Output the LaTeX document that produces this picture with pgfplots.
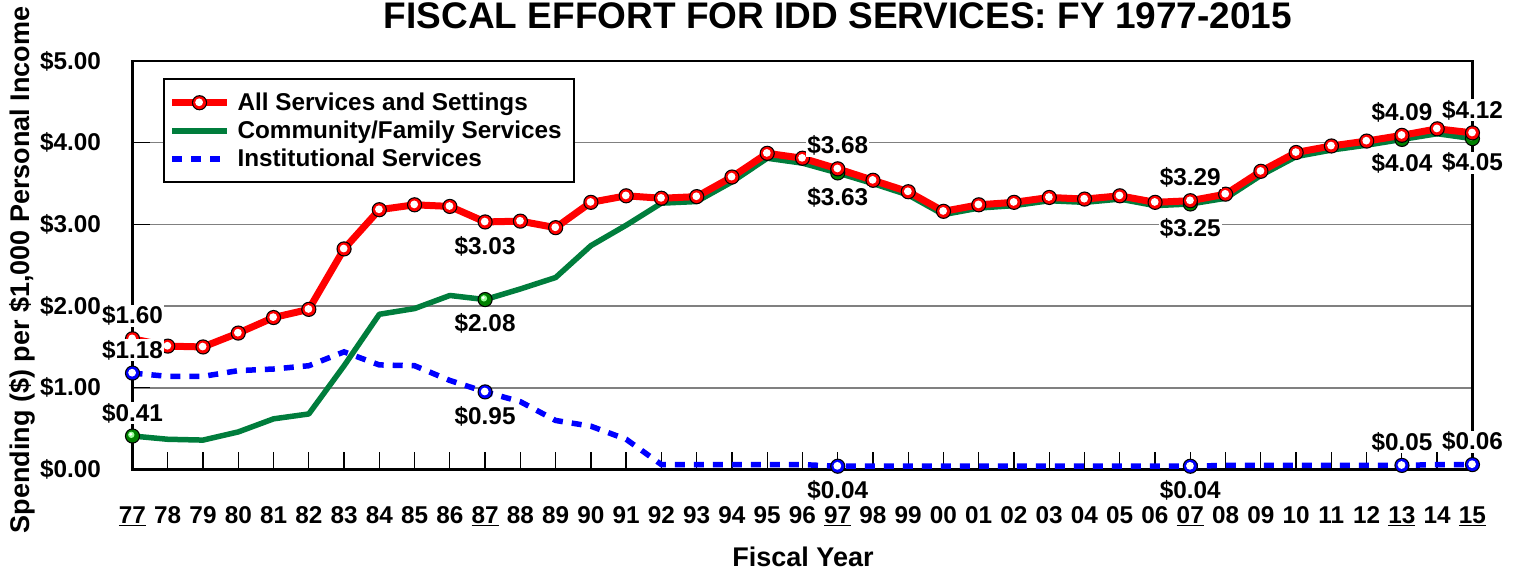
\documentclass[border=0pt]{standalone}
\usepackage{fontspec}
\setmainfont{Liberation Sans}
\usepackage{pgfplots}
\usepackage{pgfplotstable}
\pgfplotsset{compat=1.18}
\definecolor{cgreen}{RGB}{0,125,60}
\definecolor{cblue}{RGB}{0,0,255}
\definecolor{cred}{RGB}{255,0,0}
\newcommand{\tickfont}{\fontsize{24.3bp}{29bp}\selectfont\bfseries}
\newcommand{\labfont}{\fontsize{27bp}{31bp}\selectfont\bfseries}
\newcommand{\titfont}{\fontsize{37bp}{41bp}\selectfont\bfseries}

\pgfdeclareplotmark{redball}{%
  \pgfpathcircle{\pgfpointorigin}{7.6bp}\pgfsetfillcolor{black}\pgfusepath{fill}%
  \pgfpathcircle{\pgfpointorigin}{6.4bp}\pgfsetfillcolor{cred}\pgfusepath{fill}%
  \pgfpathcircle{\pgfpoint{-0.4bp}{0.4bp}}{3.9bp}\pgfsetfillcolor{white}\pgfusepath{fill}}
\pgfdeclareplotmark{blueball}{%
  \pgfpathcircle{\pgfpointorigin}{7.6bp}\pgfsetfillcolor{black}\pgfusepath{fill}%
  \pgfpathcircle{\pgfpointorigin}{6.4bp}\pgfsetfillcolor{cblue}\pgfusepath{fill}%
  \pgfpathcircle{\pgfpoint{-0.4bp}{0.4bp}}{3.9bp}\pgfsetfillcolor{white}\pgfusepath{fill}}
\pgfdeclareplotmark{greenball}{%
  \pgfpathcircle{\pgfpointorigin}{7.6bp}\pgfsetfillcolor{black}\pgfusepath{fill}%
  \pgfpathcircle{\pgfpointorigin}{6.4bp}\pgfsetfillcolor{green!50!black}\pgfusepath{fill}%
  \pgfpathcircle{\pgfpoint{-1.2bp}{1.2bp}}{3.2bp}\pgfsetfillcolor{green!40!white}\pgfusepath{fill}%
  \pgfpathcircle{\pgfpoint{-1.8bp}{1.8bp}}{1.6bp}\pgfsetfillcolor{white}\pgfusepath{fill}}

\pgfplotstableread{
year all comm inst
1977 1.60 0.41 1.18
1978 1.51 0.37 1.14
1979 1.50 0.36 1.14
1980 1.67 0.46 1.21
1981 1.86 0.62 1.23
1982 1.96 0.68 1.27
1983 2.70 1.27 1.44
1984 3.18 1.90 1.28
1985 3.24 1.97 1.27
1986 3.22 2.13 1.09
1987 3.03 2.08 0.95
1988 3.04 2.21 0.83
1989 2.96 2.35 0.60
1990 3.27 2.74 0.53
1991 3.35 2.99 0.37
1992 3.32 3.26 0.06
1993 3.34 3.28 0.06
1994 3.58 3.52 0.06
1995 3.87 3.81 0.06
1996 3.81 3.75 0.06
1997 3.68 3.63 0.04
1998 3.54 3.50 0.04
1999 3.40 3.36 0.04
2000 3.16 3.12 0.04
2001 3.24 3.20 0.04
2002 3.27 3.23 0.04
2003 3.33 3.29 0.04
2004 3.31 3.27 0.04
2005 3.35 3.31 0.04
2006 3.27 3.23 0.04
2007 3.29 3.25 0.04
2008 3.37 3.32 0.05
2009 3.65 3.60 0.05
2010 3.88 3.83 0.05
2011 3.96 3.91 0.05
2012 4.02 3.97 0.05
2013 4.09 4.04 0.05
2014 4.17 4.11 0.06
2015 4.12 4.05 0.06
}\datatable

\begin{document}
\begin{tikzpicture}
\begin{axis}[
  name=ax,
  scale only axis, width=1340bp, height=408.5bp,
  xmin=1977, xmax=2015, ymin=0, ymax=5,
  clip=false,
  axis line style={line width=2.5bp, black},
  xtick={1977,...,2015},
  xticklabels={\underline{77},78,79,80,81,82,83,84,85,86,\underline{87},88,89,90,91,92,93,94,95,96,\underline{97},98,99,00,01,02,03,04,05,06,\underline{07},08,09,10,11,12,\underline{13},14,\underline{15}},
  ytick={0,1,2,3,4,5},
  yticklabels={\$0.00,\$1.00,\$2.00,\$3.00,\$4.00,\$5.00},
  tick align=inside, xtick pos=left, ytick pos=left,
  major tick length=18bp,
  every tick/.style={black, line width=1.3bp},
  ymajorgrids, major grid style={gray, line width=1.5bp},
  ticklabel style={font=\tickfont},
  xticklabel style={yshift=-34bp},
  yticklabel style={xshift=-28bp},
  legend style={at={(0.0224,0.958)}, anchor=north west, draw=black, line width=2bp, fill=white,
    font=\tickfont, inner xsep=5bp, inner ysep=13bp, row sep=7bp,
    nodes={inner xsep=7bp, inner ysep=1bp}},
  legend cell align=left,
  legend image code/.code={\draw[mark repeat=2,mark phase=2,#1] plot coordinates {(0bp,0bp) (27.5bp,0bp) (55bp,0bp)};},
  reverse legend,
]
\addplot[cblue, line width=5.5bp, dash pattern=on 10bp off 9bp, mark=none] table[x=year,y=inst]{\datatable};
\addlegendentry{Institutional Services}
\addplot[forget plot, only marks, mark=blueball, mark indices={1,11,21,31,37,39}] table[x=year,y=inst]{\datatable};
\addplot[cgreen, line width=5.5bp, line join=round, mark=none] table[x=year,y=comm]{\datatable};
\addlegendentry{Community/Family Services}
\addplot[forget plot, only marks, mark=greenball, mark indices={1,11,21,31,37,39}] table[x=year,y=comm]{\datatable};
\addplot[cred, line width=7bp, line join=round, mark=redball] table[x=year,y=all]{\datatable};
\addlegendentry{All Services and Settings}

% value labels above points
\addplot[forget plot, draw=none, mark=none, nodes near coords, point meta=explicit symbolic,
  every node near coord/.style={anchor=center, yshift=23bp, fill=white, inner sep=1bp, text=black, font=\tickfont}]
  coordinates {(1977,1.60)[\$1.60] (1977,1.18)[\$1.18] (1977,0.41)[\$0.41] (1997,3.68)[\$3.68] (2007,3.29)[\$3.29]
               (2013,4.09)[\$4.09] (2015,4.12)[\$4.12] (2013,0.05)[\$0.05] (2015,0.06)[\$0.06]};
% value labels below points
\addplot[forget plot, draw=none, mark=none, nodes near coords, point meta=explicit symbolic,
  every node near coord/.style={anchor=center, yshift=-24bp, fill=white, inner sep=1bp, text=black, font=\tickfont}]
  coordinates {(1987,3.03)[\$3.03] (1987,2.08)[\$2.08] (1987,0.95)[\$0.95] (1997,3.63)[\$3.63] (1997,0.04)[\$0.04]
               (2007,3.25)[\$3.25] (2007,0.04)[\$0.04] (2013,4.04)[\$4.04] (2015,4.05)[\$4.05]};
\end{axis}
\node[font=\titfont, anchor=base] at ([xshift=705.5bp,yshift=440.5bp]ax.south west) {FISCAL EFFORT FOR IDD SERVICES: FY 1977-2015};
\node[font=\labfont, anchor=base, rotate=90] at ([xshift=-102.5bp,yshift=199.5bp]ax.south west) {Spending (\$) per \$1,000 Personal Income};
\node[font=\labfont, anchor=base] at ([xshift=670.5bp,yshift=-96.5bp]ax.south west) {Fiscal Year};
\pgfresetboundingbox
\path[use as bounding box] ([xshift=-132.5bp,yshift=-99.5bp]ax.south west) rectangle ([xshift=1388.5bp,yshift=469.5bp]ax.south west);
\end{tikzpicture}
\end{document}
